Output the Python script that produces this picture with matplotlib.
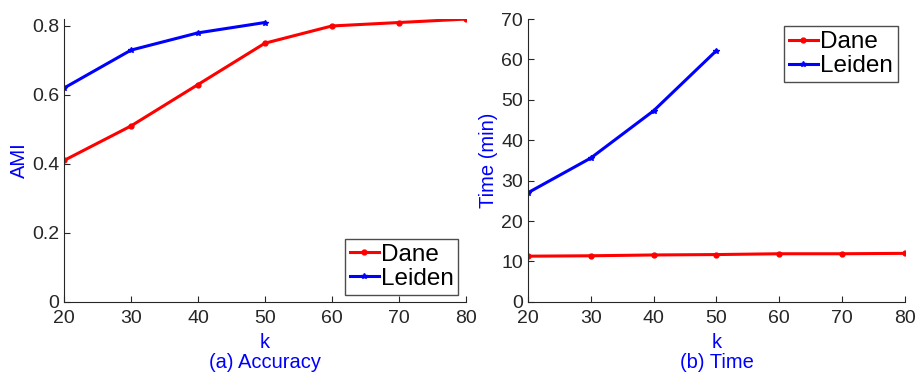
import matplotlib.pyplot as plt

plt.rcParams['font.family'] = ['Liberation Sans', 'DejaVu Sans']

k_dane = [20, 30, 40, 50, 60, 70, 80]
k_leiden = [20, 30, 40, 50]

ami_dane = [0.41, 0.51, 0.63, 0.75, 0.80, 0.81, 0.82]
ami_leiden = [0.62, 0.73, 0.78, 0.81]

time_dane = [11.3, 11.4, 11.6, 11.7, 11.9, 11.9, 12.0]
time_leiden = [27.0, 35.6, 47.3, 62.2]

xticks = [20, 30, 40, 50, 60, 70, 80]

fig = plt.figure(figsize=(9.15, 3.74), dpi=100)
ax1 = fig.add_axes([0.070, 0.193, 0.439, 0.756])
ax2 = fig.add_axes([0.577, 0.193, 0.412, 0.756])

blue = (0, 0, 1)
red = (1, 0, 0)

leg_kw = dict(fontsize=17.5, handlelength=1.2, handletextpad=0.08,
              borderpad=0.2, labelspacing=0.08, fancybox=False,
              edgecolor='0.3', framealpha=1, borderaxespad=0.3)

# (a) accuracy
ax1.plot(k_dane, ami_dane, '-o', color=red, lw=2.2, ms=3.5, label='Dane')
ax1.plot(k_leiden, ami_leiden, '-*', color=blue, lw=2.2, ms=4, label='Leiden')
ax1.set_xlim(20, 80)
ax1.set_ylim(0, 0.82)
ax1.set_yticks([0, 0.2, 0.4, 0.6, 0.8])
ax1.set_yticklabels(['0', '0.2', '0.4', '0.6', '0.8'])
ax1.set_ylabel('AMI', color=blue, fontsize=14.5, labelpad=2)
ax1.legend(loc='lower right', **leg_kw)

# (b) time
ax2.plot(k_dane, time_dane, '-o', color=red, lw=2.2, ms=3.5, label='Dane')
ax2.plot(k_leiden, time_leiden, '-*', color=blue, lw=2.2, ms=4, label='Leiden')
ax2.set_xlim(20, 80)
ax2.set_ylim(0, 70)
ax2.set_yticks(range(0, 71, 10))
ax2.set_ylabel('Time (min)', color=blue, fontsize=14.5, labelpad=2)
ax2.legend(loc='upper right', **leg_kw)

for ax, cap in [(ax1, '(a) Accuracy'), (ax2, '(b) Time')]:
    ax.set_xticks(xticks)
    ax.set_xlabel('k', color=blue, fontsize=14.5)
    ax.xaxis.set_label_coords(0.5, -0.11)
    ax.text(0.5, -0.215, cap, transform=ax.transAxes, ha='center', va='center',
            color=blue, fontsize=14.5)
    ax.tick_params(direction='in', labelsize=14, colors='0.15', length=4)
    ax.tick_params(axis='x', pad=6)
    ax.spines['top'].set_visible(False)
    ax.spines['right'].set_visible(False)
    ax.spines['left'].set_color('0.15')
    ax.spines['bottom'].set_color('0.15')

fig.savefig('out.png', dpi=100)
